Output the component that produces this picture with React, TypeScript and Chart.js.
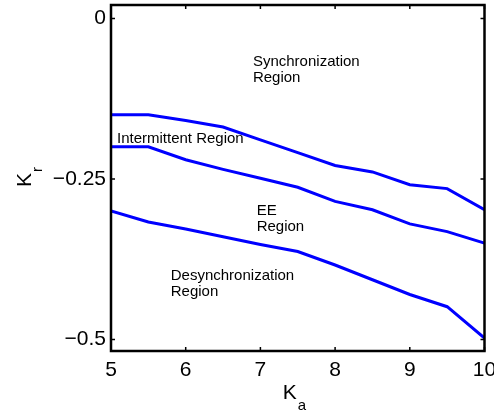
import React, { useEffect, useRef } from "react";
import { Chart, registerables } from "chart.js";

Chart.register(...registerables);

// Ka values (x axis)
const kaValues = [5, 5.5, 6, 6.5, 7, 7.5, 8, 8.5, 9, 9.5, 10];
// Boundary curves (Kr values)
const upperBoundary = [-0.15, -0.15, -0.159, -0.169, -0.189, -0.209, -0.229, -0.239, -0.259, -0.265, -0.298];
const middleBoundary = [-0.2, -0.2, -0.22, -0.235, -0.249, -0.263, -0.285, -0.298, -0.32, -0.332, -0.35];
const lowerBoundary = [-0.3, -0.317, -0.328, -0.34, -0.352, -0.363, -0.384, -0.407, -0.43, -0.449, -0.498];

// Axis ticks
const xTicks = [5, 6, 7, 8, 9, 10];
const yTicks = [0, -0.25, -0.5];
const xRange = [5, 10];
const yRange = [-0.518, 0.021];

// Region annotations (data coordinates of first baseline)
const regionTexts = [
  ["Synchronization", "Region"],
  ["Intermittent Region"],
  ["EE", "Region"],
  ["Desynchronization", "Region"],
];
const regionX = [6.9, 5.08, 6.95, 5.8];
const regionY = [-0.074, -0.194, -0.306, -0.407];

const FONT = "'Liberation Sans', Arial, Helvetica, sans-serif";

const framePlugin = {
  id: "frame",
  afterDatasetsDraw(chart: any) {
    const { ctx, chartArea } = chart;
    const { left, right, top, bottom } = chartArea;
    const xs = chart.scales.x;
    const ys = chart.scales.y;
    ctx.save();
    ctx.strokeStyle = "#000";
    // inward ticks
    ctx.lineWidth = 1.5;
    const tl = 4;
    ctx.beginPath();
    xTicks.forEach((v) => {
      const px = xs.getPixelForValue(v);
      ctx.moveTo(px, bottom);
      ctx.lineTo(px, bottom - tl);
      ctx.moveTo(px, top);
      ctx.lineTo(px, top + tl);
    });
    yTicks.forEach((v) => {
      const py = ys.getPixelForValue(v);
      ctx.moveTo(left, py);
      ctx.lineTo(left + tl, py);
      ctx.moveTo(right, py);
      ctx.lineTo(right - tl, py);
    });
    ctx.stroke();
    // frame
    ctx.lineWidth = 2.5;
    ctx.strokeRect(left, top, right - left, bottom - top);

    // region texts
    ctx.fillStyle = "#000";
    ctx.font = `15px ${FONT}`;
    ctx.textAlign = "left";
    ctx.textBaseline = "alphabetic";
    regionTexts.forEach((lines, i) => {
      const px = xs.getPixelForValue(regionX[i]);
      const py = ys.getPixelForValue(regionY[i]);
      lines.forEach((t, j) => ctx.fillText(t, px, py + j * 16.5));
    });

    // axis titles with subscripts
    ctx.font = `21px ${FONT}`;
    const kw = ctx.measureText("K").width;
    // x title
    const xMid = (left + right) / 2;
    const xBase = 399;
    ctx.fillText("K", xMid - 15, xBase);
    ctx.font = `15px ${FONT}`;
    ctx.fillText("a", xMid - 15 + kw + 1, xBase + 11);
    // y title
    ctx.save();
    ctx.translate(31, 187);
    ctx.rotate(-Math.PI / 2);
    ctx.font = `21px ${FONT}`;
    ctx.fillText("K", 0, 0);
    ctx.font = `15px ${FONT}`;
    ctx.fillText("r", kw + 1, 11);
    ctx.restore();
    ctx.restore();
  },
};

export default function App() {
  const ref = useRef<HTMLCanvasElement>(null);
  useEffect(() => {
    document.body.style.margin = "0";
    const mk = (arr: number[]) => kaValues.map((x, i) => ({ x, y: arr[i] }));
    const ds = (arr: number[]) => ({
      data: mk(arr),
      borderColor: "#0000ff",
      borderWidth: 3,
      pointRadius: 0,
      tension: 0,
      fill: false,
    });
    const tickFont = { family: FONT, size: 21 };
    const chart = new Chart(ref.current as HTMLCanvasElement, {
      type: "line",
      data: { datasets: [ds(upperBoundary), ds(middleBoundary), ds(lowerBoundary)] as any },
      options: {
        responsive: false,
        devicePixelRatio: 1,
        animation: false,
        layout: { padding: { top: 5, right: 9.5, left: 0, bottom: 0 } },
        plugins: { legend: { display: false }, tooltip: { enabled: false } },
        scales: {
          x: {
            type: "linear",
            min: xRange[0],
            max: xRange[1],
            afterBuildTicks: (s: any) => {
              s.ticks = xTicks.map((v) => ({ value: v }));
            },
            afterFit: (s: any) => {
              s.height = 65;
              s.paddingLeft = 0;
              s.paddingRight = 0;
            },
            ticks: {
              font: tickFont,
              color: "#000",
              padding: 7,
              maxRotation: 0,
              autoSkip: false,
              callback: (v: any) => String(v),
            },
            grid: { display: false, drawTicks: false },
            border: { display: false },
          },
          y: {
            type: "linear",
            min: yRange[0],
            max: yRange[1],
            afterBuildTicks: (s: any) => {
              s.ticks = yTicks.map((v) => ({ value: v }));
            },
            afterFit: (s: any) => {
              s.width = 111;
              s.paddingTop = 0;
              s.paddingBottom = 0;
            },
            ticks: {
              font: tickFont,
              color: "#000",
              padding: 5,
              autoSkip: false,
              callback: (v: any) => (v < 0 ? "\u2212" + String(Math.abs(v)) : String(v)),
            },
            grid: { display: false, drawTicks: false },
            border: { display: false },
          },
        },
      } as any,
      plugins: [framePlugin],
    });
    return () => chart.destroy();
  }, []);
  return (
    <div style={{ width: 494, height: 416, background: "#fff" }}>
      <canvas ref={ref} width={494} height={416} />
    </div>
  );
}
